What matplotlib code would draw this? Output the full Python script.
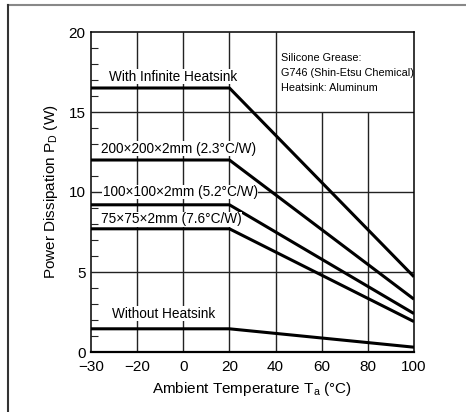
import matplotlib
matplotlib.use("Agg")
import matplotlib.pyplot as plt
from matplotlib.lines import Line2D

plt.rcParams['font.family'] = ['Liberation Sans', 'DejaVu Sans']
plt.rcParams['mathtext.fontset'] = 'custom'
plt.rcParams['mathtext.rm'] = 'Liberation Sans'

# data (x = ambient temperature, left edge of the axis is labelled -30)
temps = [-40, 20, 100]
infinite = [16.5, 16.5, 4.7]
hs200 = [12.0, 12.0, 3.3]
hs100 = [9.2, 9.2, 2.4]
hs75 = [7.7, 7.7, 1.9]
no_hs = [1.45, 1.45, 0.3]

curve_labels = ["With Infinite Heatsink", "200×200×2mm (2.3°C/W)",
                "100×100×2mm (5.2°C/W)", "75×75×2mm (7.6°C/W)",
                "Without Heatsink"]
label_pos = [(-32, 17.2), (-35.7, 12.7), (-34.9, 10.0), (-35.7, 8.3), (-31, 2.4)]

xtick_pos = [-40, -20, 0, 20, 40, 60, 80, 100]
xtick_labels = ["−30", "−20", "0", "20", "40", "60", "80", "100"]
ytick_pos = [0, 5, 10, 15, 20]

note = "Silicone Grease:\nG746 (Shin-Etsu Chemical)\nHeatsink: Aluminum"

fig = plt.figure(figsize=(4.66, 4.12), dpi=100)
ax = fig.add_axes([91/466, 1-352/412, 323/466, 320/412])
ax.set_xlim(-40, 100)
ax.set_ylim(0, 20)

gc = '#222222'
# grid: the note box (40..100, 15..20) has no lines inside
for x in [-20, 0, 20, 40]:
    ax.vlines(x, 0, 20, color=gc, lw=1.0, zorder=1)
for x in [60, 80]:
    ax.vlines(x, 0, 15, color=gc, lw=1.0, zorder=1)
for y in [5, 10, 15]:
    ax.hlines(y, -40, 100, color=gc, lw=1.0, zorder=1)

for ys in [infinite, hs200, hs100, hs75, no_hs]:
    ax.plot(temps, ys, color='black', lw=2.2, solid_capstyle='butt', zorder=3)

for lab, (x, y) in zip(curve_labels, label_pos):
    ax.text(x, y, lab, ha='left', va='center', fontsize=9.8, zorder=4,
            bbox=dict(facecolor='white', edgecolor='none', pad=0.3))

ax.text(42.4, 17.45, note, ha='left', va='center', fontsize=7.8,
        family=['Liberation Sans Narrow', 'Liberation Sans'], linespacing=1.6)

ax.set_xticks(xtick_pos)
ax.set_xticklabels(xtick_labels)
ax.set_yticks(ytick_pos)
ax.set_yticks([v for v in range(1, 20) if v % 5], minor=True)
ax.tick_params(axis='x', which='major', length=0, pad=6, labelsize=11)
ax.tick_params(axis='y', which='major', length=0, pad=4, labelsize=11)
ax.tick_params(axis='y', which='minor', direction='in', length=5, width=0.8, color=gc)

ax.set_xlabel(r"Ambient Temperature $\mathregular{T_a}$ (°C)", fontsize=11, labelpad=4)
ax.set_ylabel(r"Power Dissipation $\mathregular{P_D}$ (W)", fontsize=11, labelpad=6)

for s in ['top', 'right', 'left']:
    ax.spines[s].set_linewidth(1.1)
ax.spines['bottom'].set_linewidth(1.6)

# partial outer frame
fig.add_artist(Line2D([8/466, 1], [1-5/412, 1-5/412], color='#888888', lw=1.5,
                      transform=fig.transFigure))
fig.add_artist(Line2D([8/466, 8/466], [0, 1-5/412], color='#333333', lw=1.5,
                      transform=fig.transFigure))

fig.savefig("out.png", dpi=100)
